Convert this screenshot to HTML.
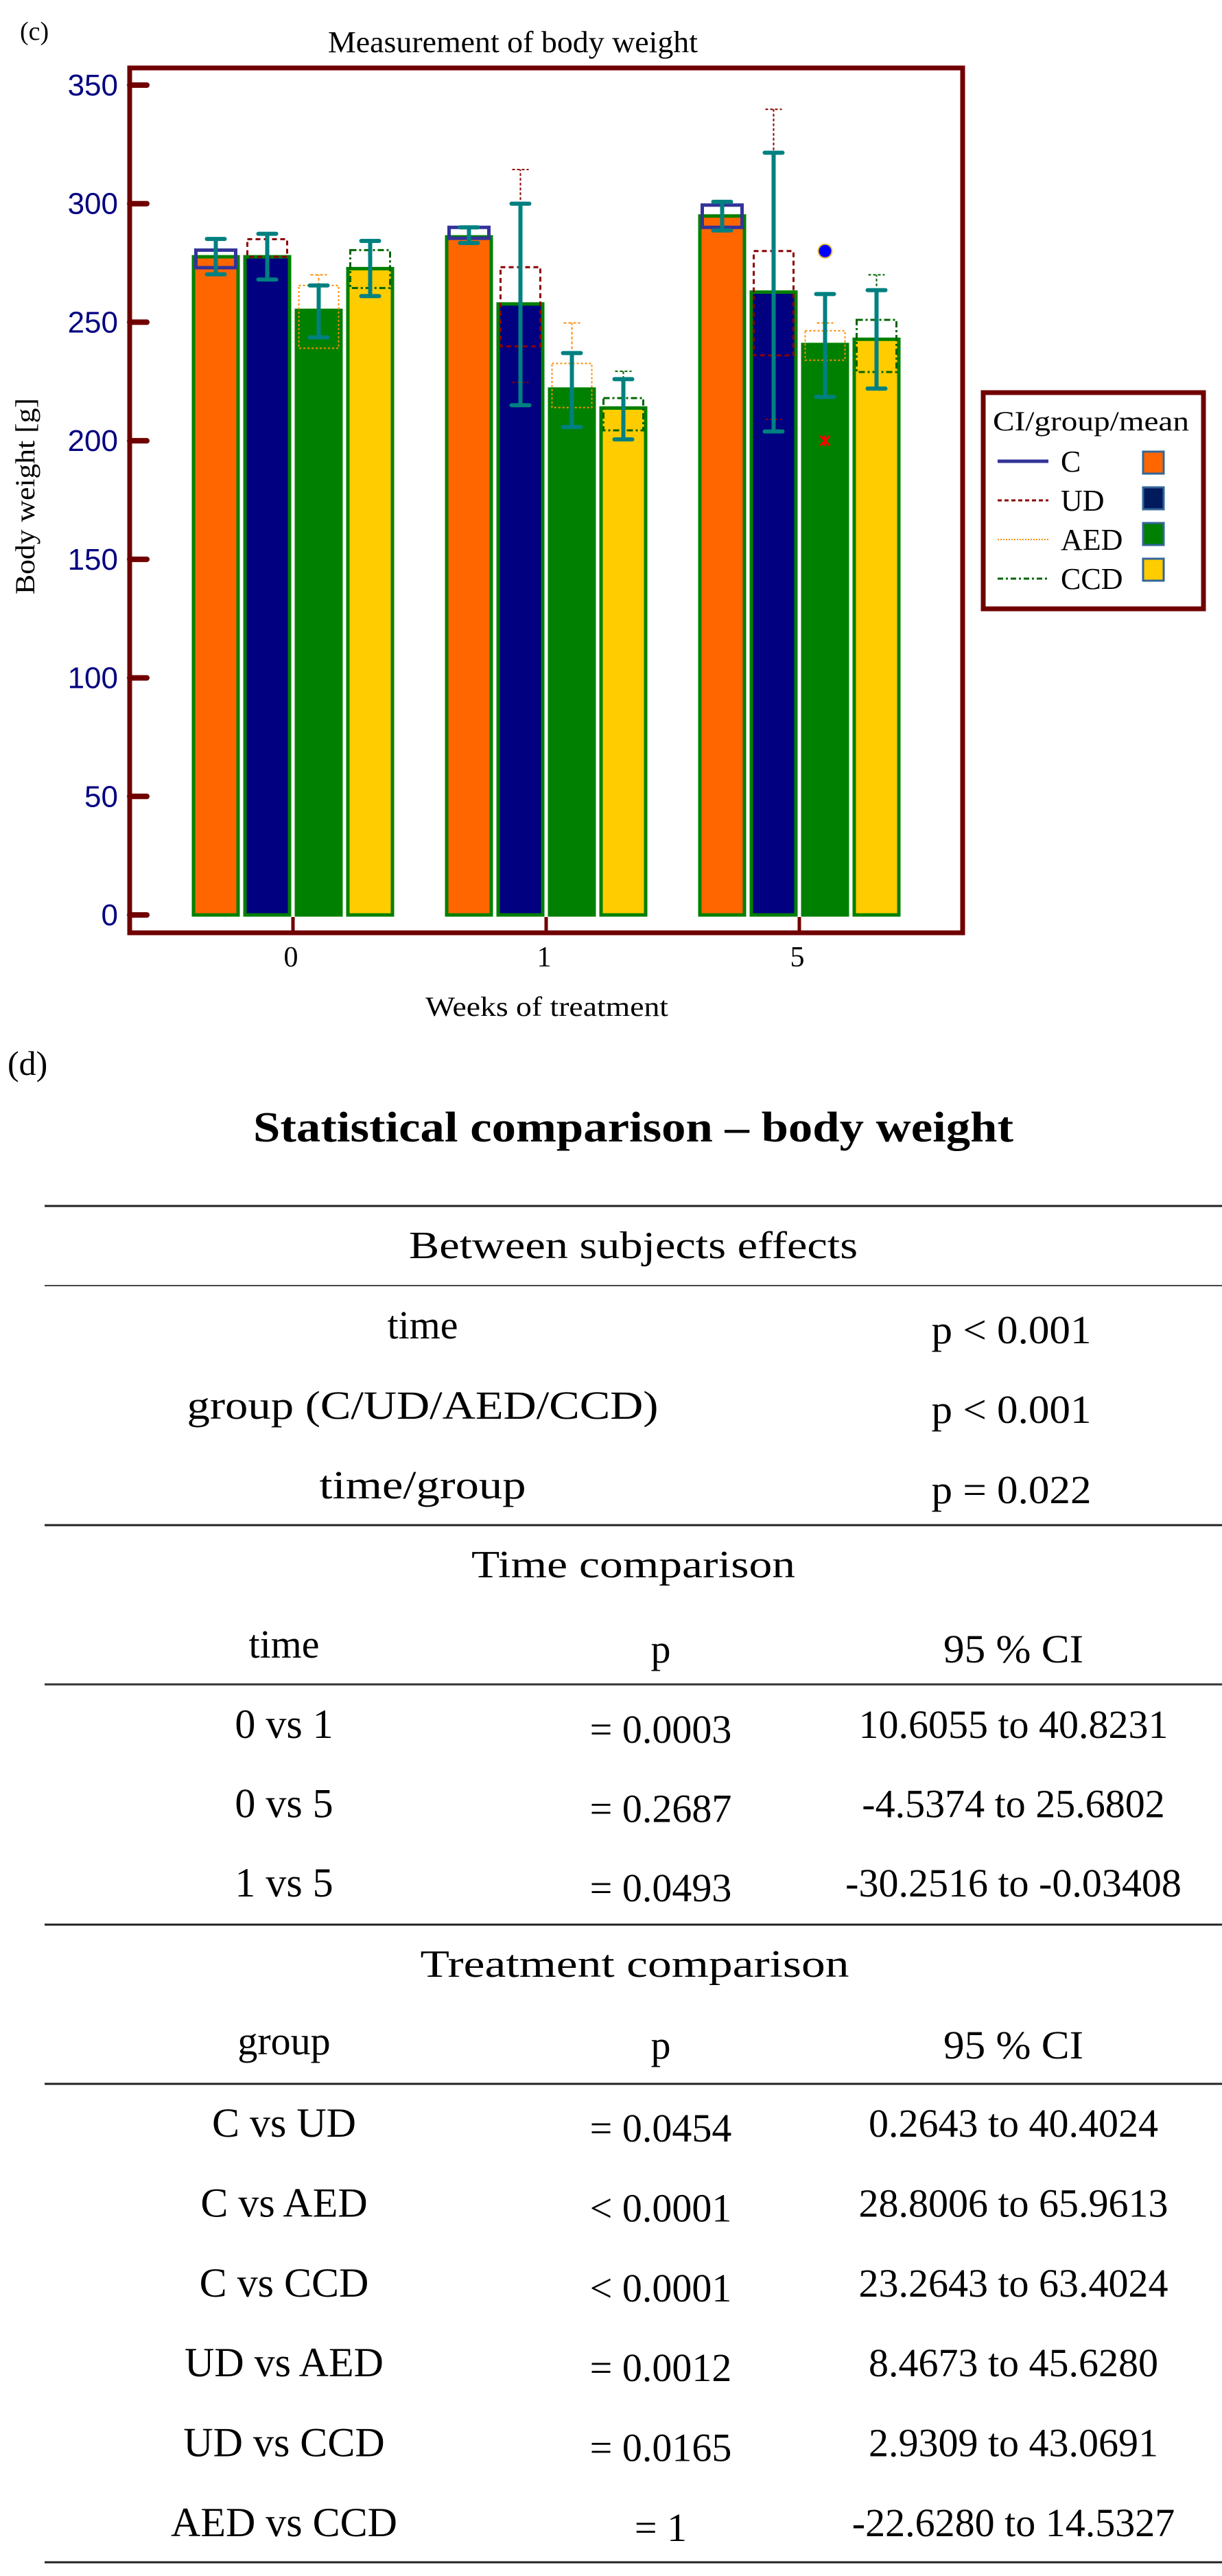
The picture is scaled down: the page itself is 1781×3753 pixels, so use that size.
<!DOCTYPE html>
<html><head><meta charset="utf-8"><title>Body weight</title>
<style>
html,body{margin:0;padding:0;background:#fff;}
svg{display:block;}
.serif{font-family:"Liberation Serif",serif;}
.sans{font-family:"Liberation Sans",sans-serif;}
</style></head>
<body>
<svg id="fig" width="1781" height="3753" viewBox="0 0 1781 3753" xmlns="http://www.w3.org/2000/svg">
  <text class="serif" x="29" y="58" font-size="38">(c)</text>
  <text class="serif" x="478" y="76" font-size="44" textLength="539" lengthAdjust="spacingAndGlyphs">Measurement of body weight</text>
  <g id="plot"></g>
  <rect x="189" y="99" width="1214" height="1260" fill="none" stroke="#700000" stroke-width="7"/>
  <text class="serif" transform="translate(50,723) rotate(-90)" text-anchor="middle" font-size="40" textLength="286" lengthAdjust="spacingAndGlyphs">Body weight [g]</text>
  <text class="serif" x="797" y="1480" text-anchor="middle" font-size="40" textLength="354" lengthAdjust="spacingAndGlyphs">Weeks of treatment</text>

  <g>
    <rect x="1433" y="572" width="321" height="315" fill="#fff" stroke="#700000" stroke-width="7"/>
    <text class="serif" x="1447" y="627" font-size="40" textLength="286" lengthAdjust="spacingAndGlyphs">CI/group/mean</text>
    <g>
      <line x1="1454" y1="672" x2="1528" y2="672" stroke="#333399" stroke-width="5"/>
      <text class="serif" x="1546" y="687" font-size="44">C</text>
      <rect x="1666" y="658" width="30" height="32" fill="#FF6600" stroke="#336699" stroke-width="3"/>
    </g>
    <g>
      <line x1="1454" y1="729" x2="1528" y2="729" stroke="#8B0000" stroke-width="3" stroke-dasharray="6,4"/>
      <text class="serif" x="1546" y="744" font-size="44">UD</text>
      <rect x="1666" y="710" width="30" height="32" fill="#001A5C" stroke="#336699" stroke-width="3"/>
    </g>
    <g>
      <line x1="1454" y1="786" x2="1528" y2="786" stroke="#FF8C00" stroke-width="2" stroke-dasharray="2,2"/>
      <text class="serif" x="1546" y="801" font-size="44">AED</text>
      <rect x="1666" y="762" width="30" height="32" fill="#008000" stroke="#336699" stroke-width="3"/>
    </g>
    <g>
      <line x1="1454" y1="843" x2="1528" y2="843" stroke="#006400" stroke-width="3" stroke-dasharray="8,4,3,4"/>
      <text class="serif" x="1546" y="858" font-size="44">CCD</text>
      <rect x="1666" y="814" width="30" height="32" fill="#FFCC00" stroke="#336699" stroke-width="3"/>
    </g>
  </g>

  <g class="serif">
    <text x="11" y="1566" font-size="50">(d)</text>
    <text x="923" y="1663" text-anchor="middle" font-size="62" font-weight="bold" textLength="1108" lengthAdjust="spacingAndGlyphs">Statistical comparison – body weight</text>
    <line x1="65" y1="1757" x2="1781" y2="1757" stroke="#222" stroke-width="3"/>
    <text x="923" y="1833" text-anchor="middle" font-size="56" textLength="654" lengthAdjust="spacingAndGlyphs">Between subjects effects</text>
    <line x1="65" y1="1873" x2="1781" y2="1873" stroke="#444" stroke-width="2"/>
    <text x="616" y="1950" text-anchor="middle" font-size="58">time</text>
    <text x="1474" y="1957" text-anchor="middle" font-size="58" textLength="233" lengthAdjust="spacingAndGlyphs">p &lt; 0.001</text>
    <text x="616" y="2067" text-anchor="middle" font-size="58" textLength="687" lengthAdjust="spacingAndGlyphs">group (C/UD/AED/CCD)</text>
    <text x="1474" y="2073" text-anchor="middle" font-size="58" textLength="233" lengthAdjust="spacingAndGlyphs">p &lt; 0.001</text>
    <text x="616" y="2183" text-anchor="middle" font-size="58" textLength="301" lengthAdjust="spacingAndGlyphs">time/group</text>
    <text x="1474" y="2190" text-anchor="middle" font-size="58" textLength="233" lengthAdjust="spacingAndGlyphs">p = 0.022</text>
    <line x1="65" y1="2222" x2="1781" y2="2222" stroke="#222" stroke-width="3"/>
    <text x="923" y="2298" text-anchor="middle" font-size="56" textLength="472" lengthAdjust="spacingAndGlyphs">Time comparison</text>
    <text x="414" y="2415" text-anchor="middle" font-size="58">time</text>
    <text x="963" y="2422" text-anchor="middle" font-size="58">p</text>
    <text x="1477" y="2422" text-anchor="middle" font-size="58" textLength="204" lengthAdjust="spacingAndGlyphs">95 % CI</text>
    <line x1="65" y1="2454" x2="1781" y2="2454" stroke="#333" stroke-width="3"/>
    <g id="timeRows"></g>
    <line x1="65" y1="2804" x2="1781" y2="2804" stroke="#222" stroke-width="3"/>
    <text x="925" y="2880" text-anchor="middle" font-size="56" textLength="625" lengthAdjust="spacingAndGlyphs">Treatment  comparison</text>
    <text x="414" y="2993" text-anchor="middle" font-size="58">group</text>
    <text x="963" y="2999" text-anchor="middle" font-size="58">p</text>
    <text x="1477" y="2999" text-anchor="middle" font-size="58" textLength="204" lengthAdjust="spacingAndGlyphs">95 % CI</text>
    <line x1="65" y1="3036" x2="1781" y2="3036" stroke="#222" stroke-width="3"/>
    <g id="groupRows"></g>
    <line x1="65" y1="3733" x2="1781" y2="3733" stroke="#222" stroke-width="3"/>
  </g>
</svg>
<script>
const categories = ["0", "1", "5"];
const groups = ["C", "UD", "AED", "CCD"];
const means = [
  [277.6, 286.0, 294.8],
  [277.6, 257.7, 262.7],
  [255.0, 221.8, 240.6],
  [272.6, 213.8, 242.8]
];
const errLow = [
  [270.2, 283.4, 288.7],
  [268.0, 215.0, 203.9],
  [243.6, 205.8, 218.5],
  [261.0, 200.6, 222.0]
];
const errHigh = [
  [285.1, 290.0, 300.8],
  [287.3, 300.0, 321.5],
  [265.5, 237.0, 261.9],
  [284.3, 226.0, 263.5]
];
const ciLow = [
  [273.0, 285.4, 290.0],
  [277.6, 239.8, 236.0],
  [239.0, 214.0, 234.0],
  [264.4, 204.4, 229.0]
];
const ciHigh = [
  [280.4, 290.0, 299.4],
  [285.0, 273.2, 280.0],
  [265.5, 232.6, 246.4],
  [280.4, 218.0, 251.0]
];
const whiskLow = [
  [null, null, null],
  [null, 224.6, 209.0],
  [null, null, null],
  [null, null, null]
];
const whiskHigh = [
  [null, null, null],
  [null, 314.4, 339.8],
  [270.0, 249.7, 249.7],
  [284.0, 229.3, 270.0]
];
const outlierGroup = [2, 2];
const outlierCat = [2, 2];
const outlierValues = [280, 200];
const yTicks = [0, 50, 100, 150, 200, 250, 300, 350];

const timeLabels = ["0 vs 1", "0 vs 5", "1 vs 5"];
const timeP = ["= 0.0003", "= 0.2687", "= 0.0493"];
const timeCI = ["10.6055 to 40.8231", "-4.5374 to 25.6802", "-30.2516 to -0.03408"];
const groupLabels = ["C vs UD", "C vs AED", "C vs CCD", "UD vs AED", "UD vs CCD", "AED vs CCD"];
const groupP = ["= 0.0454", "< 0.0001", "< 0.0001", "= 0.0012", "= 0.0165", "= 1"];
const groupCI = ["0.2643 to 40.4024", "28.8006 to 65.9613", "23.2643 to 63.4024", "8.4673 to 45.6280", "2.9309 to 43.0691", "-22.6280 to 14.5327"];

const NS = "http://www.w3.org/2000/svg";
function mk(tag, attrs, parent) {
  const e = document.createElementNS(NS, tag);
  for (const k in attrs) e.setAttribute(k, attrs[k]);
  parent.appendChild(e);
  return e;
}
const Y0 = 1333, PX = 1209 / 350;
function yScale(v) { return Y0 - v * PX; }
function xCat(i) { return 427 + i * 369; }
function xBar(i, g) { return xCat(i) + (g - 1.5) * 75; }

const plot = document.getElementById("plot");
const fills = ["#FF6600", "#000080", "#008000", "#FFCC00"];
const ciStroke = ["#333399", "#8B0000", "#FF8C00", "#006400"];
const ciWidth = [5, 3, 2, 3];
const ciDash = ["none", "7,5", "3,3", "9,4,3,4"];

yTicks.forEach(function (t) {
  const y = yScale(t);
  const tk = mk("line", {x1: 189, y1: y, x2: 214, y2: y, stroke: "#700000", "stroke-width": 8, "stroke-linecap": "round"}, plot);
  
  
  const lb = mk("text", {x: 172, y: y + 15, "text-anchor": "end", "font-size": 44, fill: "#000080", class: "sans"}, plot);
  lb.textContent = String(t);
  
  
});
categories.forEach(function (c, i) {
  const x = xCat(i);
  const tk = mk("line", {x1: x, y1: 1336, x2: x, y2: 1359, stroke: "#700000", "stroke-width": 5}, plot);
  
  
  const lb = mk("text", {x: x - 3, y: 1408, "text-anchor": "middle", "font-size": 42, class: "serif"}, plot);
  lb.textContent = c;
  
  
});
groups.forEach(function (g, gi) {
  categories.forEach(function (c, i) {
    const x = xBar(i, gi), top = yScale(means[gi][i]);
    const r = mk("rect", {x: x - 32.5, y: top, width: 65, height: Y0 - top, fill: fills[gi], stroke: "#008000", "stroke-width": 5}, plot);
    
    
  });
});
groups.forEach(function (g, gi) {
  categories.forEach(function (c, i) {
    const x = xBar(i, gi);
    const yl = yScale(ciLow[gi][i]), yh = yScale(ciHigh[gi][i]);
    const b = mk("rect", {x: x - 29, y: yh, width: 58, height: yl - yh, fill: "none", stroke: ciStroke[gi], "stroke-width": ciWidth[gi], "stroke-dasharray": ciDash[gi]}, plot);
    
    
    [[whiskHigh[gi][i], ciHigh[gi][i]], [whiskLow[gi][i], ciLow[gi][i]]].forEach(function (w) {
      if (w[0] === null) return;
      const yw = yScale(w[0]), yb = yScale(w[1]);
      const l = mk("path", {d: "M" + x + "," + yb + " V" + yw + " M" + (x - 12) + "," + yw + " H" + (x + 12), fill: "none", stroke: ciStroke[gi], "stroke-width": 2, "stroke-dasharray": ciDash[gi] === "none" ? "none" : "4,3"}, plot);
      
      
    });
  });
});
groups.forEach(function (g, gi) {
  categories.forEach(function (c, i) {
    const x = xBar(i, gi);
    const yl = yScale(errLow[gi][i]), yh = yScale(errHigh[gi][i]);
    const e = mk("path", {d: "M" + x + "," + yl + " V" + yh + " M" + (x - 13) + "," + yh + " H" + (x + 13) + " M" + (x - 13) + "," + yl + " H" + (x + 13), fill: "none", stroke: "#008080", "stroke-width": 6, "stroke-linecap": "round"}, plot);
    
    
  });
});
outlierValues.forEach(function (v, k) {
  const x = xBar(outlierCat[k], outlierGroup[k]), y = yScale(v);
  if (k === 0) {
    const o = mk("circle", {cx: x, cy: y, r: 10, fill: "#0000FF", stroke: "#E8C040", "stroke-width": 2}, plot);
    
    
  } else {
    const o = mk("path", {d: "M" + (x - 7) + "," + (y - 7) + " L" + (x + 7) + "," + (y + 7) + " M" + (x + 7) + "," + (y - 7) + " L" + (x - 7) + "," + (y + 7) + " M" + x + "," + (y - 8) + " V" + (y + 8), stroke: "#FF0000", "stroke-width": 3}, plot);
    
    
  }
});

function rows(parentId, labels, ps, cis, y0, step, labelX) {
  const p = document.getElementById(parentId);
  labels.forEach(function (lab, i) {
    const y = y0 + i * step;
    const a = mk("text", {x: labelX, y: y, "text-anchor": "middle", "font-size": 60}, p);
    a.textContent = lab;
    
    
    const b = mk("text", {x: 963, y: y + 7, "text-anchor": "middle", "font-size": 58}, p);
    b.textContent = ps[i];
    
    
    const c = mk("text", {x: 1477, y: y, "text-anchor": "middle", "font-size": 58}, p);
    c.textContent = cis[i];
    
    
  });
}
rows("timeRows", timeLabels, timeP, timeCI, 2532, 115.5, 414);
rows("groupRows", groupLabels, groupP, groupCI, 3113, 116.4, 414);
</script>
</body></html>
